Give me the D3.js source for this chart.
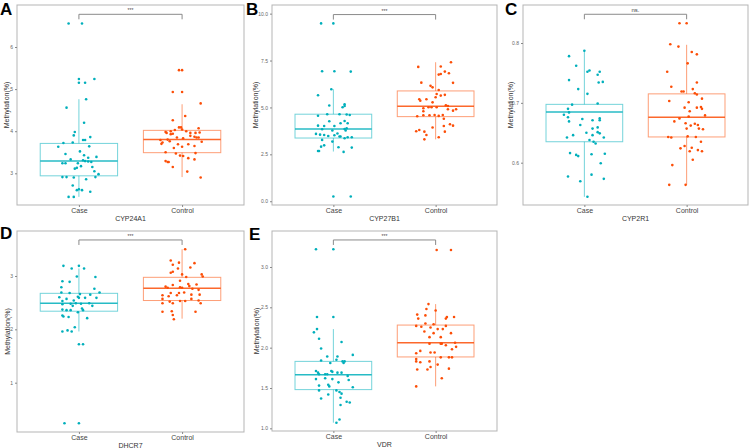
<!DOCTYPE html>
<html><head><meta charset="utf-8">
<script src="https://cdn.jsdelivr.net/npm/d3@7"></script>
<style>
html,body{margin:0;padding:0;background:#fff;}
svg{display:block;font-family:"Liberation Sans",Arial,Helvetica,sans-serif;}
</style></head>
<body>
<svg id="chart" width="752" height="448"></svg>
<script>
// ---------- DATA ----------
const categories = ["Case", "Control"];
const genes = ["CYP24A1", "CYP27B1", "CYP2R1", "DHCR7", "VDR"];
const panelLetters = ["A", "B", "C", "D", "E"];
const pLabels = ["***", "***", "ns.", "***", "***"];
const yTicks = [[3, 4, 5, 6], [0, 2.5, 5, 7.5, 10], [0.6, 0.7, 0.8], [1, 2, 3], [1, 1.5, 2, 2.5, 3]];
const yTickFormats = ["d", ".1f", ".1f", "d", ".1f"];
const yDomains = [[2.247, 6.998], [-0.2, 10.46], [0.5293, 0.8635], [0.076, 3.843], [0.967, 3.446]];
const bracketY = [6.777, 9.95, 0.848, 3.675, 3.335];
// box stats: [whiskerLow, q1, median, q3, whiskerHigh]
const boxCase = [[2.44, 2.94, 3.29, 3.71, 4.76], [2.65, 3.37, 3.85, 4.64, 5.97], [0.543, 0.635, 0.6847, 0.6975, 0.787], [1.96, 2.34, 2.49, 2.675, 3.14], [1.07, 1.48, 1.665, 1.83, 2.23]];
const boxControl = [[2.91, 3.49, 3.80, 4.02, 4.64], [3.30, 4.51, 5.06, 5.88, 7.41], [0.563, 0.643, 0.676, 0.715, 0.797], [2.2, 2.54, 2.77, 2.975, 3.5], [1.52, 1.885, 2.06, 2.28, 2.54]];
// points: [jitter (hundredths of category step), value]
const cyp24a1Case = [[-10,6.56],[3,6.56],[0,5.24],[0,5.15],[6,5.15],[15,5.24],[7,4.76],[-12,4.56],[5,4.20],[-4,3.98],[-5,3.90],[11,3.86],[4,3.79],[6,3.79],[-15,3.72],[-6,3.73],[-20,3.63],[10,3.64],[1,3.52],[-13,3.46],[17,3.39],[5,3.43],[9,3.37],[-8,3.33],[4,3.31],[6,3.29],[9,3.28],[12,3.27],[-1,3.24],[-16,3.24],[-13,3.24],[-2,3.13],[-4,3.11],[2,3.17],[13,3.15],[15,3.05],[19,2.98],[-16,2.91],[-12,2.91],[-5,2.90],[16,2.91],[7,2.86],[-6,2.71],[0,2.62],[-2,2.60],[3,2.60],[11,2.56],[-10,2.44],[-5,2.44]];
const cyp24a1Control = [[-3,5.45],[0,5.45],[-9,4.93],[0,4.93],[18,4.66],[3,4.36],[-9,4.26],[-3,4.09],[-1,4.09],[16,4.07],[-16,3.98],[-11,4.0],[-7,4.03],[-15,3.96],[0,4.04],[4,4.0],[8,3.96],[13,3.96],[17,3.97],[-21,3.79],[-19,3.73],[-14,3.80],[-11,3.93],[-5,3.85],[1,3.83],[8,3.89],[14,3.85],[16,3.85],[19,3.75],[-20,3.70],[-12,3.76],[-4,3.69],[6,3.69],[12,3.65],[-8,3.60],[0,3.63],[-16,3.50],[-6,3.47],[-2,3.42],[1,3.41],[6,3.36],[13,3.48],[-16,3.29],[-14,3.27],[-13,3.27],[12,3.33],[-9,3.15],[5,3.04],[18,2.90],[12,3.87],[-9,3.94]];
const cyp27b1Case = [[-12,9.48],[0,9.48],[-11,6.93],[1,6.93],[17,6.91],[-2,5.97],[-15,5.65],[-4,5.10],[11,5.17],[11,5.08],[9,5.01],[-6,4.64],[-15,4.56],[6,4.64],[13,4.62],[16,4.60],[-4,4.26],[-9,4.01],[-15,4.03],[1,4.01],[11,4.28],[7,4.16],[14,4.16],[-11,3.84],[-1,3.77],[11,3.85],[12,3.77],[13,3.89],[-17,3.59],[-13,3.55],[-9,3.53],[-5,3.48],[1,3.52],[4,3.61],[7,3.45],[18,3.41],[14,3.41],[11,3.36],[-11,3.27],[-1,3.18],[6,3.45],[-9,2.98],[-12,2.91],[5,2.88],[18,2.86],[-15,2.68],[-14,2.68],[10,2.63],[0,0.25],[17,0.25]];
const cyp27b1Control = [[15,7.41],[-17,7.16],[5,7.18],[3,6.75],[5,6.78],[9,6.91],[13,6.82],[17,6.31],[-14,6.32],[-5,6.15],[-3,6.07],[3,5.93],[1,5.72],[5,5.63],[9,5.67],[0,5.54],[-16,5.44],[-15,5.36],[-9,5.44],[-3,5.27],[10,5.12],[12,5.08],[-7,5.01],[-12,4.96],[1,5.01],[12,4.90],[20,4.90],[17,4.83],[-12,4.80],[-4,5.01],[-1,4.60],[-6,4.58],[7,4.60],[-12,4.58],[-18,4.53],[3,4.55],[8,4.40],[-3,3.93],[14,4.10],[17,4.03],[8,4.01],[-16,3.80],[-19,3.73],[-11,3.71],[9,3.71],[-9,3.53],[-11,3.30],[3,3.41]];
const cyp2r1Case = [[0,0.787],[-15,0.778],[-8,0.762],[5,0.754],[3,0.752],[15,0.752],[13,0.747],[14,0.734],[18,0.735],[-15,0.738],[-6,0.723],[3,0.715],[-12,0.697],[13,0.699],[-16,0.690],[-15,0.684],[-20,0.680],[-16,0.676],[-2,0.673],[15,0.674],[8,0.671],[15,0.671],[-15,0.669],[-4,0.663],[13,0.659],[8,0.657],[13,0.651],[2,0.650],[15,0.649],[-11,0.646],[8,0.646],[-17,0.642],[19,0.642],[5,0.638],[9,0.635],[11,0.632],[-14,0.616],[-8,0.613],[-6,0.611],[7,0.614],[20,0.615],[16,0.599],[7,0.580],[-16,0.577],[19,0.573],[-4,0.569],[3,0.543]];
const cyp2r1Control = [[-7,0.833],[0,0.833],[-16,0.798],[-8,0.794],[5,0.785],[10,0.781],[1,0.766],[-19,0.752],[10,0.734],[-15,0.727],[-5,0.719],[-3,0.719],[6,0.723],[8,0.716],[10,0.714],[15,0.707],[-17,0.703],[2,0.701],[10,0.692],[14,0.693],[15,0.690],[-2,0.692],[3,0.686],[18,0.679],[2,0.677],[-7,0.674],[-12,0.669],[-1,0.666],[8,0.665],[11,0.663],[4,0.662],[0,0.657],[12,0.657],[16,0.656],[-18,0.643],[-15,0.642],[1,0.644],[9,0.643],[14,0.635],[-2,0.628],[-6,0.624],[5,0.625],[3,0.619],[11,0.621],[15,0.619],[6,0.605],[-14,0.596],[-17,0.563],[-1,0.563]];
const dhcr7Case = [[-15,3.19],[0,3.19],[-7,3.14],[5,3.14],[-2,2.99],[16,2.98],[-16,2.90],[-9,2.89],[-17,2.79],[15,2.76],[20,2.69],[-9,2.68],[1,2.66],[-17,2.69],[-19,2.60],[-1,2.61],[0,2.59],[11,2.65],[17,2.59],[6,2.59],[-16,2.53],[-12,2.57],[-5,2.54],[-16,2.47],[-8,2.48],[-3,2.49],[10,2.49],[2,2.48],[13,2.44],[-6,2.44],[-16,2.37],[-12,2.36],[-8,2.36],[3,2.39],[4,2.36],[-1,2.32],[-16,2.26],[-15,2.24],[-10,2.23],[8,2.21],[-4,2.04],[-16,1.96],[-11,1.98],[-7,1.96],[0,1.72],[4,1.72],[-14,0.24],[0,0.24]];
const dhcr7Control = [[3,3.5],[-11,3.29],[-3,3.25],[-9,3.21],[12,3.24],[8,3.16],[-11,3.06],[-9,3.08],[-4,3.14],[19,3.03],[20,2.99],[0,3.03],[4,2.98],[-2,2.91],[-16,2.80],[-9,2.83],[6,2.85],[14,2.84],[-14,2.78],[-2,2.79],[0,2.78],[7,2.81],[10,2.76],[16,2.74],[-11,2.68],[-3,2.68],[2,2.69],[9,2.65],[17,2.65],[-19,2.64],[-13,2.62],[-5,2.64],[-19,2.57],[-12,2.52],[-9,2.49],[3,2.53],[16,2.54],[18,2.49],[-19,2.49],[-10,2.34],[-19,2.33],[13,2.33],[-9,2.27],[-8,2.19],[-2,2.53],[9,2.57]];
const vdrCase = [[-17,3.22],[0,3.22],[-16,2.38],[0,2.38],[-16,2.23],[-19,2.19],[-14,2.11],[8,2.07],[-12,1.99],[19,1.91],[-6,1.89],[4,1.89],[3,1.85],[-12,1.84],[-3,1.81],[11,1.83],[10,1.81],[9,1.83],[-17,1.71],[-15,1.69],[-14,1.67],[-8,1.67],[-2,1.71],[-1,1.70],[4,1.69],[8,1.69],[14,1.65],[-6,1.67],[-17,1.61],[-8,1.62],[-1,1.61],[5,1.57],[15,1.60],[-14,1.53],[-5,1.54],[-4,1.52],[19,1.51],[-14,1.47],[6,1.45],[3,1.47],[8,1.43],[-5,1.42],[7,1.38],[-12,1.37],[7,1.29],[13,1.33],[16,1.32],[6,1.11],[3,1.07]];
const vdrControl = [[1,3.21],[15,3.21],[-7,2.54],[-9,2.48],[0,2.46],[-18,2.41],[11,2.38],[18,2.38],[-17,2.36],[-10,2.40],[-19,2.27],[10,2.36],[10,2.27],[-10,2.30],[-2,2.29],[-14,2.26],[-5,2.25],[2,2.23],[7,2.23],[-2,2.18],[15,2.18],[-11,2.20],[-6,2.13],[5,2.13],[6,2.05],[10,2.03],[-6,2.05],[5,2.05],[19,2.06],[20,2.01],[16,1.98],[-15,1.96],[-19,1.93],[-5,1.94],[-1,1.94],[5,1.88],[13,1.88],[16,1.88],[-19,1.86],[-15,1.82],[-19,1.83],[-6,1.83],[2,1.79],[-5,1.76],[-8,1.73],[-18,1.73],[13,1.74],[6,1.62],[-19,1.52]];

const casePoints = [cyp24a1Case, cyp27b1Case, cyp2r1Case, dhcr7Case, vdrCase];
const controlPoints = [cyp24a1Control, cyp27b1Control, cyp2r1Control, dhcr7Control, vdrControl];

// ---------- LAYOUT / STYLE ----------
const panels = [
  {l: 17, r: 244, t: 5, b: 205, ylabX: 6.5, letterX: 0, letterY: 14.5},
  {l: 272, r: 497, t: 5, b: 205, ylabX: 255.5, letterX: 246, letterY: 14.5},
  {l: 523, r: 748, t: 5, b: 205, ylabX: 510, letterX: 505, letterY: 14.5},
  {l: 17, r: 244, t: 231, b: 432, ylabX: 7.5, letterX: 0, letterY: 238.5},
  {l: 272, r: 497, t: 231, b: 431, ylabX: 256, letterX: 249, letterY: 239.5}
];
const colors = {Case: "#00AFBB", Control: "#FC4E07"};
const svg = d3.select("#chart");

panels.forEach((p, i) => {
  const g = svg.append("g");
  const x = d3.scaleLinear().domain([0.4, 2.6]).range([p.l, p.r]);
  const step = x(2) - x(1);
  const y = d3.scaleLinear().domain(yDomains[i]).range([p.b, p.t]);

  // panel border
  g.append("rect").attr("x", p.l).attr("y", p.t).attr("width", p.r - p.l).attr("height", p.b - p.t)
    .attr("fill", "none").attr("stroke", "#b5b5b5").attr("stroke-width", 1);

  // y axis ticks & labels
  const fmt = d3.format(yTickFormats[i]);
  const yAxis = d3.axisLeft(y).tickValues(yTicks[i]).tickFormat(fmt).tickSize(2).tickPadding(2);
  const ya = g.append("g").attr("transform", `translate(${p.l},0)`).call(yAxis);
  ya.select(".domain").remove();
  ya.selectAll("line").attr("stroke", "#888");
  ya.selectAll("text").attr("font-size", 5).attr("fill", "#666").attr("font-family", "Liberation Sans, Arial, sans-serif");

  // x axis
  const xAxis = d3.axisBottom(x).tickValues([1, 2]).tickFormat((d) => categories[d - 1]).tickSize(2).tickPadding(1.5);
  const xa = g.append("g").attr("transform", `translate(0,${p.b})`).call(xAxis);
  xa.select(".domain").remove();
  xa.selectAll("line").attr("stroke", "#888");
  xa.selectAll("text").attr("font-size", 7).attr("fill", "#444").attr("font-family", "Liberation Sans, Arial, sans-serif");

  // axis titles
  g.append("text").attr("x", (p.l + p.r) / 2).attr("y", p.b + 15.5).attr("text-anchor", "middle")
    .attr("font-size", 7).attr("fill", "#333").text(genes[i]);
  g.append("text").attr("transform", `translate(${p.ylabX},${(p.t + p.b) / 2}) rotate(-90)`)
    .attr("text-anchor", "middle").attr("dominant-baseline", "central")
    .attr("font-size", 7).attr("fill", "#333").text("Methylation(%)");

  // boxes
  const boxHalf = 0.375 * step;
  [boxCase[i], boxControl[i]].forEach((s, k) => {
    const cx = x(k + 1);
    const c = colors[categories[k]];
    const bg = g.append("g");
    bg.append("line").attr("x1", cx).attr("x2", cx).attr("y1", y(s[3])).attr("y2", y(s[4]))
      .attr("stroke", c).attr("stroke-opacity", 0.55).attr("stroke-width", 1);
    bg.append("line").attr("x1", cx).attr("x2", cx).attr("y1", y(s[1])).attr("y2", y(s[0]))
      .attr("stroke", c).attr("stroke-opacity", 0.55).attr("stroke-width", 1);
    bg.append("rect").attr("x", cx - boxHalf).attr("y", y(s[3])).attr("width", 2 * boxHalf)
      .attr("height", y(s[1]) - y(s[3])).attr("fill", "none")
      .attr("stroke", c).attr("stroke-opacity", 0.55).attr("stroke-width", 1);
    bg.append("line").attr("x1", cx - boxHalf).attr("x2", cx + boxHalf).attr("y1", y(s[2])).attr("y2", y(s[2]))
      .attr("stroke", c).attr("stroke-opacity", 0.85).attr("stroke-width", 1.5);
  });

  // points
  [casePoints[i], controlPoints[i]].forEach((pts, k) => {
    const c = colors[categories[k]];
    g.append("g").selectAll("circle").data(pts).join("circle")
      .attr("cx", (d) => x(k + 1) + d[0] / 100 * step)
      .attr("cy", (d) => y(d[1]))
      .attr("r", 1.3).attr("fill", c);
  });

  // significance bracket
  const by = y(bracketY[i]);
  g.append("path")
    .attr("d", `M${x(1)},${by + 5}V${by}H${x(2)}V${by + 5}`)
    .attr("fill", "none").attr("stroke", "#8a8a8a").attr("stroke-width", 1);
  g.append("text").attr("x", (x(1) + x(2)) / 2).attr("y", by - 2).attr("text-anchor", "middle")
    .attr("font-size", pLabels[i] === "ns." ? 6 : 5).attr("fill", "#444").text(pLabels[i]);

  // panel letter
  svg.append("text").attr("x", p.letterX).attr("y", p.letterY)
    .attr("font-size", 17).attr("font-weight", "bold").attr("fill", "#000").text(panelLetters[i]);
});
</script>
</body></html>
